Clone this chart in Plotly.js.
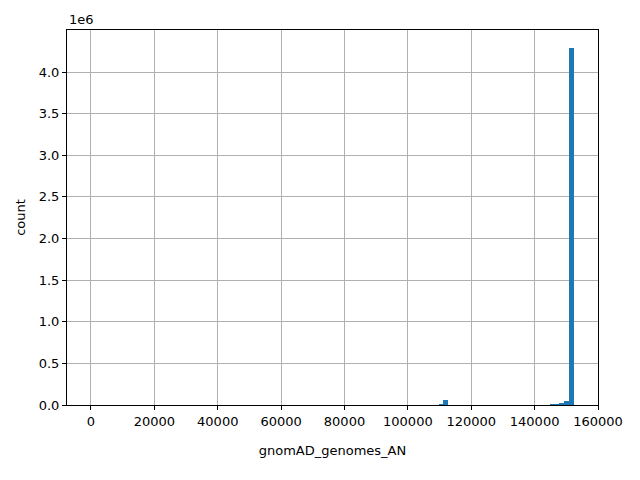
<!DOCTYPE html>
<html>
<head>
<meta charset="utf-8">
<script src="https://cdn.plot.ly/plotly-3.0.1.min.js"></script>
<style>html,body{margin:0;padding:0;background:#fff;}#chart{width:640px;height:480px;}</style>
</head>
<body>
<div id="chart"></div>
<script>
// Histogram bins (100 bins across the data range); only non-empty bins listed
var binWidth = 1523.4;
var binLeft = [0, 109685, 111208, 144722, 146245, 147769, 149292, 150815];
var counts  = [300, 15000, 62000, 9000, 11000, 24000, 50000, 4290000];
var xTicks = [0, 20000, 40000, 60000, 80000, 100000, 120000, 140000, 160000];
var yTicks = [0, 500000, 1000000, 1500000, 2000000, 2500000, 3000000, 3500000, 4000000];
var yTickText = ["0.0", "0.5", "1.0", "1.5", "2.0", "2.5", "3.0", "3.5", "4.0"];

var centers = binLeft.map(function (b) { return b + binWidth / 2; });

var trace = {
  type: 'bar',
  x: centers,
  y: counts,
  width: binWidth,
  marker: { color: '#1f77b4', line: { width: 0 } },
  hoverinfo: 'x+y'
};

var font = { family: 'DejaVu Sans, sans-serif', size: 13, color: '#000' };

var layout = {
  width: 640, height: 480,
  margin: { l: 67, r: 42, t: 30, b: 75 },
  paper_bgcolor: '#fff', plot_bgcolor: '#fff',
  font: font,
  showlegend: false,
  bargap: 0,
  xaxis: {
    range: [-7570, 160000],
    tickvals: xTicks,
    ticktext: xTicks.map(String),
    ticks: 'outside', ticklen: 4, tickwidth: 1, tickcolor: '#000',
    showgrid: true, gridcolor: '#b0b0b0', gridwidth: 1,
    zeroline: false,
    showline: true, linecolor: '#000', linewidth: 1, mirror: true,
    title: { text: 'gnomAD_genomes_AN', font: font, standoff: 18 },
    tickfont: font
  },
  yaxis: {
    range: [0, 4504500],
    tickvals: yTicks,
    ticktext: yTickText,
    ticks: 'outside', ticklen: 4, tickwidth: 1, tickcolor: '#000',
    showgrid: true, gridcolor: '#b0b0b0', gridwidth: 1,
    zeroline: false,
    showline: true, linecolor: '#000', linewidth: 1, mirror: true,
    title: { text: 'count', font: font, standoff: 10 },
    tickfont: font
  },
  annotations: [{
    text: '1e6', xref: 'paper', yref: 'paper', x: 0, y: 1,
    xanchor: 'left', yanchor: 'bottom', showarrow: false, font: font, yshift: 1
  }]
};

Plotly.newPlot('chart', [trace], layout, { displayModeBar: false, staticPlot: true });
</script>
</body>
</html>
